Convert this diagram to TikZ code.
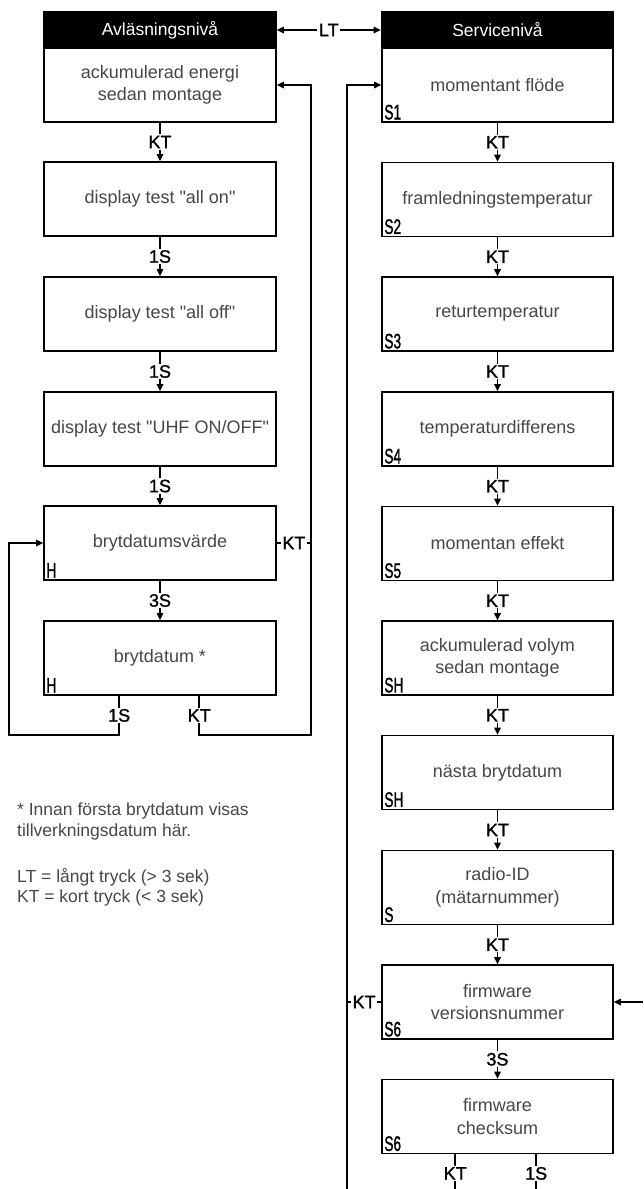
\documentclass[tikz,border=0pt]{standalone}
\usepackage{fontspec}
\setmainfont{Liberation Sans}
\newfontfamily\qfont{Liberation Sans}
\newfontfamily\labfont[FakeBold=1.2]{Liberation Sans}
\newfontfamily\codefont[FakeBold=1.6]{Liberation Sans}
\newcommand\qq{{\qfont"}}
\usetikzlibrary{arrows.meta,calc}
\begin{document}
\begin{tikzpicture}[x=1pt,y=-1pt,
 box/.style={draw, line width=1.6pt, minimum width=232pt, minimum height=74pt, inner sep=0pt, align=center, font=\fontsize{18}{22.5}\selectfont, text=black!72},
 hdr/.style={draw, fill=black, line width=1.6pt, minimum width=232pt, minimum height=36pt, inner sep=0pt, text=white, font=\fontsize{17.5}{20}\selectfont},
 conn/.style={line width=1.6pt},
 arr/.style={conn, -{Triangle[length=7pt,width=6.5pt]}},
 dblarr/.style={conn, {Triangle[length=7pt,width=6.5pt]}-{Triangle[length=7pt,width=6.5pt]}},
 lab/.style={fill=white, inner sep=1.5pt, text=black, font=\labfont\fontsize{18}{18}\selectfont},
 code/.style={anchor=south west, inner sep=0pt, font=\codefont\fontsize{21}{21}\selectfont},
 note/.style={anchor=base west, inner sep=0pt, text=black!72, font=\fontsize{17.5}{21}\selectfont}]
\useasboundingbox (0,0) rectangle (643,1189);
\fill[white] (0,0) rectangle (643,1189);

% left column
\node[hdr] (hA) at (160,30) {Avläsningsnivå};
\node[box] (a1) at (160,85) {ackumulerad energi\\sedan montage};
\node[box] (a2) at (160,199) {display test \qq all on\qq};
\node[box] (a3) at (160,314) {display test \qq all off\qq};
\node[box] (a4) at (160,429) {display test \qq UHF ON/OFF\qq};
\node[box] (a5) at (160,543) {brytdatumsvärde};
\node[box] (a6) at (160,658) {brytdatum *};
\node[code] at ($(a5.south west)+(3,-3)$) {\scalebox{0.65}[1]{H}};
\node[code] at ($(a6.south west)+(3,-3)$) {\scalebox{0.65}[1]{H}};

% right column
\node[hdr] (hB) at (497.5,30) {Servicenivå};
\node[box, minimum width=231pt] (b1) at (497.5,85) {momentant flöde};
\node[box, minimum width=231pt] (b2) at (497.5,199.5) {framledningstemperatur};
\node[box, minimum width=231pt] (b3) at (497.5,314) {returtemperatur};
\node[box, minimum width=231pt] (b4) at (497.5,429) {temperaturdifferens};
\node[box, minimum width=231pt] (b5) at (497.5,543.5) {momentan effekt};
\node[box, minimum width=231pt] (b6) at (497.5,658) {ackumulerad volym\\sedan montage};
\node[box, minimum width=231pt] (b7) at (497.5,772.5) {nästa brytdatum};
\node[box, minimum width=231pt] (b8) at (497.5,887.5) {radio-ID\\(mätarnummer)};
\node[box, minimum width=231pt] (b9) at (497.5,1002) {firmware\\versionsnummer};
\node[box, minimum width=231pt] (b10) at (497.5,1116.5) {firmware\\checksum};
\node[code] at ($(b1.south west)+(3,-3)$) {\scalebox{0.65}[1]{S1}};
\node[code] at ($(b2.south west)+(3,-3)$) {\scalebox{0.65}[1]{S2}};
\node[code] at ($(b3.south west)+(3,-3)$) {\scalebox{0.65}[1]{S3}};
\node[code] at ($(b4.south west)+(3,-3)$) {\scalebox{0.65}[1]{S4}};
\node[code] at ($(b5.south west)+(3,-3)$) {\scalebox{0.65}[1]{S5}};
\node[code] at ($(b6.south west)+(3,-3)$) {\scalebox{0.65}[1]{SH}};
\node[code] at ($(b7.south west)+(3,-3)$) {\scalebox{0.65}[1]{SH}};
\node[code] at ($(b8.south west)+(3,-3)$) {\scalebox{0.65}[1]{S}};
\node[code] at ($(b9.south west)+(3,-3)$) {\scalebox{0.65}[1]{S6}};
\node[code] at ($(b10.south west)+(3,-3)$) {\scalebox{0.65}[1]{S6}};

% footnotes
\node[note] (n1) at (17,815) {* Innan första brytdatum visas};
\node[note] (n2) at (17,836) {tillverkningsdatum här.};
\node[note] (n3) at (17,882) {LT = långt tryck (> 3 sek)};
\node[note] (n4) at (17,902) {KT = kort tryck (< 3 sek)};

% LT
\draw[dblarr] (hA.east) -- node[lab]{LT} (hB.west);

% left vertical chain
\draw[arr] (a1.south) -- node[lab]{KT} (a2.north);
\draw[arr] (a2.south) -- node[lab]{1S} (a3.north);
\draw[arr] (a3.south) -- node[lab]{1S} (a4.north);
\draw[arr] (a4.south) -- node[lab]{1S} (a5.north);
\draw[arr] (a5.south) -- node[lab]{3S} (a6.north);

% left loops
\coordinate (a6o1) at ($(a6.south west)+(76,0)$);
\coordinate (a6o2) at ($(a6.south west)+(156,0)$);
\coordinate (lpL) at (9,735);
\coordinate (lpR) at (311,735);
\draw[arr] (a6o1) -- node[lab]{1S} (a6o1 |- lpL) -- (lpL) |- (a5.west);
\draw[arr] (a6o2) -- node[lab]{KT} (a6o2 |- lpR) -- (lpR) |- (a1.east);
\draw[conn] (a5.east) -- node[lab]{KT} (a5.east -| lpR);

% right vertical chain
\draw[arr] (b1.south) -- node[lab]{KT} (b2.north);
\draw[arr] (b2.south) -- node[lab]{KT} (b3.north);
\draw[arr] (b3.south) -- node[lab]{KT} (b4.north);
\draw[arr] (b4.south) -- node[lab]{KT} (b5.north);
\draw[arr] (b5.south) -- node[lab]{KT} (b6.north);
\draw[arr] (b6.south) -- node[lab]{KT} (b7.north);
\draw[arr] (b7.south) -- node[lab]{KT} (b8.north);
\draw[arr] (b8.south) -- node[lab]{KT} (b9.north);
\draw[arr] (b9.south) -- node[lab]{3S} (b10.north);

% right loops
\coordinate (rB) at (347,1189);
\coordinate (rE) at (643,1002);
\draw[arr] (rB) |- (b1.west);
\draw[conn] (b9.west) -- node[lab]{KT} (b9.west -| rB);
\draw[arr] (rE) -- (b9.east);
\coordinate (c1) at ($(b10.south west)+(74,0)$);
\coordinate (c2) at ($(b10.south west)+(155,0)$);
\draw[conn] (c1) -- node[lab,pos=0.55]{KT} (c1 |- rB);
\draw[conn] (c2) -- node[lab,pos=0.55]{1S} (c2 |- rB);
\end{tikzpicture}
\end{document}
